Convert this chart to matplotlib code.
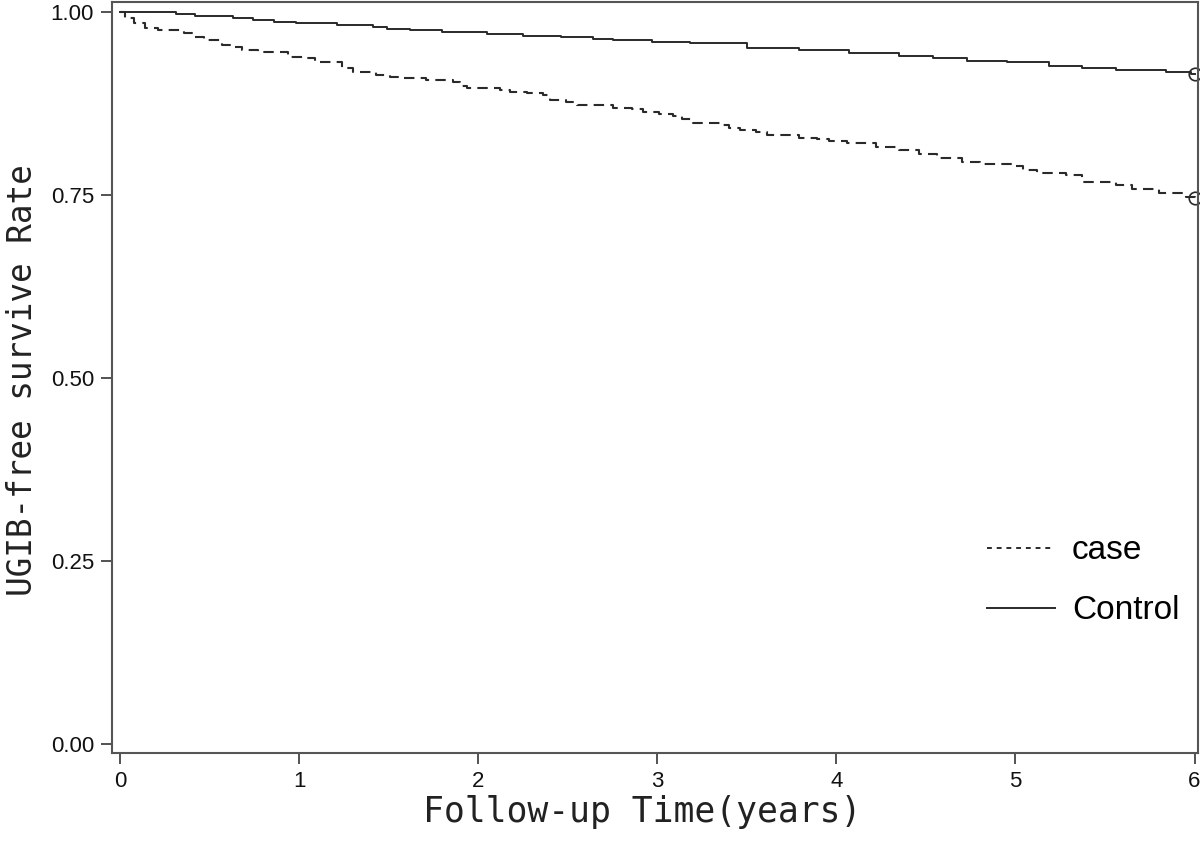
import matplotlib
matplotlib.use("Agg")
import matplotlib.pyplot as plt
from matplotlib.lines import Line2D

# survival curves (years, rate)
case_t = [0.00, 0.03, 0.08, 0.14, 0.21, 0.36, 0.42, 0.47, 0.57, 0.63, 0.68,
          0.77, 0.94, 1.02, 1.09, 1.24, 1.30, 1.43, 1.51, 1.58, 1.71, 1.86,
          1.90, 1.94, 2.12, 2.18, 2.27, 2.36, 2.40, 2.49, 2.55, 2.75, 2.86,
          2.92, 3.01, 3.09, 3.14, 3.20, 3.36, 3.40, 3.46, 3.55, 3.61, 3.79,
          3.89, 3.96, 4.06, 4.22, 4.35, 4.46, 4.56, 4.70, 4.80, 4.98, 5.04,
          5.12, 5.28, 5.37, 5.56, 5.65, 5.80, 5.95, 6.00]
case_s = [1.000, 0.992, 0.985, 0.978, 0.975, 0.971, 0.966, 0.962, 0.955,
          0.952, 0.948, 0.945, 0.939, 0.937, 0.932, 0.923, 0.918, 0.914,
          0.911, 0.910, 0.907, 0.904, 0.899, 0.896, 0.893, 0.891, 0.889,
          0.887, 0.880, 0.877, 0.873, 0.869, 0.867, 0.863, 0.861, 0.858,
          0.854, 0.848, 0.846, 0.842, 0.839, 0.836, 0.832, 0.828, 0.827,
          0.824, 0.821, 0.816, 0.811, 0.806, 0.801, 0.795, 0.792, 0.790,
          0.784, 0.780, 0.777, 0.768, 0.764, 0.758, 0.753, 0.747, 0.746]

ctrl_t = [0.00, 0.31, 0.42, 0.63, 0.74, 0.86, 0.98, 1.21, 1.41, 1.49, 1.62,
          1.80, 2.05, 2.25, 2.46, 2.64, 2.75, 2.97, 3.18, 3.50, 3.79, 4.07,
          4.35, 4.54, 4.73, 4.95, 5.19, 5.37, 5.56, 5.84, 5.98, 6.00]
ctrl_s = [1.000, 0.997, 0.995, 0.992, 0.989, 0.986, 0.985, 0.982, 0.980,
          0.977, 0.975, 0.973, 0.970, 0.967, 0.966, 0.963, 0.962, 0.959,
          0.958, 0.951, 0.948, 0.944, 0.940, 0.937, 0.933, 0.932, 0.926,
          0.923, 0.921, 0.918, 0.915, 0.915]

x_ticks = [0, 1, 2, 3, 4, 5, 6]
y_ticks = [0.00, 0.25, 0.50, 0.75, 1.00]
group_names = ["case", "Control"]

line_col = "#2a2a2a"
tick_font = "Liberation Sans"
label_font = "DejaVu Sans Mono"

fig = plt.figure(figsize=(12, 8.5), dpi=100)
ax = fig.add_axes([0.0933, 0.114, 0.9047, 0.8836])

ax.plot(case_t, case_s, drawstyle="steps-post", color=line_col, lw=1.5,
        linestyle=(0, (5, 3)))
ax.plot(ctrl_t, ctrl_s, drawstyle="steps-post", color=line_col, lw=1.4)

# censor marks at end of follow-up
ax.plot([case_t[-1]], [case_s[-1]], "o", mfc="none", mec=line_col, ms=9, mew=1.2,
        clip_on=False)
ax.plot([ctrl_t[-1]], [ctrl_s[-1]], "o", mfc="none", mec=line_col, ms=9, mew=1.2,
        clip_on=False)

ax.set_xlim(-0.045, 6.017)
ax.set_ylim(-0.0123, 1.0137)
ax.set_xticks(x_ticks)
ax.set_xticklabels([str(v) for v in x_ticks])
ax.set_yticks(y_ticks)
ax.set_yticklabels(["%.2f" % v for v in y_ticks])

for lab in ax.get_xticklabels() + ax.get_yticklabels():
    lab.set_fontfamily(tick_font)
    lab.set_fontsize(16)
    lab.set_color("#111111")

ax.tick_params(direction="out", length=8, width=1.3, color="#444444", pad=5)
for sp in ax.spines.values():
    sp.set_color("#555555")
    sp.set_linewidth(1.5)

ax.set_ylabel("UGIB-free survive Rate", fontfamily=label_font, fontsize=23.5,
              color="#222222")
ax.yaxis.set_label_coords(-0.067, 0.497)
ax.set_xlabel("Follow-up Time(years)", fontfamily=label_font, fontsize=25,
              color="#222222")
ax.xaxis.set_label_coords(0.488, -0.056)

handles = [
    Line2D([], [], color=line_col, lw=1.4, linestyle=(0, (2.5, 2.5))),
    Line2D([], [], color=line_col, lw=1.4),
]
leg = ax.legend(handles, group_names, loc="lower right",
                bbox_to_anchor=(1.011, 0.129), frameon=False,
                prop={"family": tick_font, "size": 24},
                handlelength=2.05, handletextpad=0.5, labelspacing=0.87)

fig.savefig("out.png", dpi=100)
